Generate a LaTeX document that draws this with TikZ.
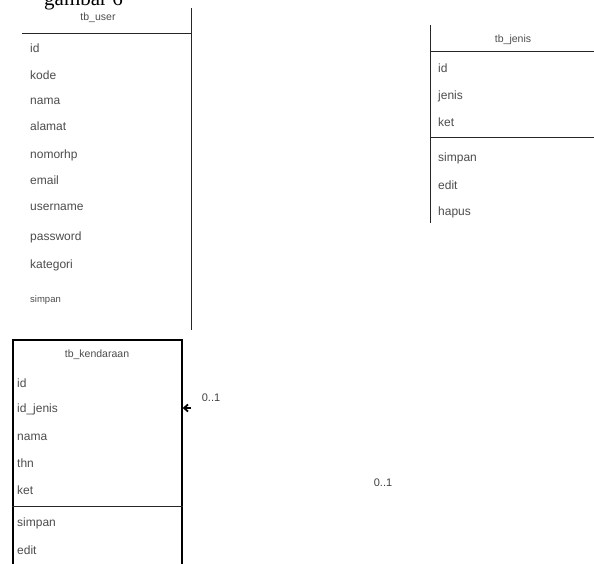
\documentclass[tikz,border=0pt]{standalone}
\usepackage{fontspec}
\setmainfont{Liberation Sans}
\newfontfamily\capfont{Liberation Serif}
\usetikzlibrary{arrows.meta,positioning}

\begin{document}
\begin{tikzpicture}[
  x=1pt, y=1pt,
  frame/.style={rectangle, inner sep=0pt},
  line/.style={line width=1.3pt, color=black!85},
  head/.style={font=\fontsize{10.5}{11}\selectfont, text=black!70},
  attr/.style={font=\fontsize{12}{13}\selectfont, text=black!70, anchor=west, inner sep=0pt},
  mult/.style={font=\fontsize{11}{12}\selectfont, text=black!75},
  arr/.style={-{Straight Barb[length=4pt, width=7pt]}, line width=1.8pt}
]
\useasboundingbox (0,0) rectangle (594,563);

% caption, cut by the top edge
\node[font=\capfont\fontsize{21}{22}\selectfont, anchor=base west, inner sep=0pt] (cap) at (44,557) {gambar 6};

% tb_user
\node[frame, minimum width=169pt, minimum height=322pt] (user) at (106.5,394) {};
\draw[line] (user.north east) -- (user.south east);
\draw[line] ([yshift=-26pt]user.north west) -- ([yshift=-26pt]user.north east);
\node[head] (userh) at (98,545) {tb\_user};
\node[attr] (u1) at (30,515) {id};
\node[attr, below=27pt of u1.west, anchor=west] (u2) {kode};
\node[attr, below=26pt of u2.west, anchor=west] (u3) {nama};
\node[attr, below=25pt of u3.west, anchor=west] (u4) {alamat};
\node[attr, below=29pt of u4.west, anchor=west] (u5) {nomorhp};
\node[attr, below=25pt of u5.west, anchor=west] (u6) {email};
\node[attr, below=27pt of u6.west, anchor=west] (u7) {username};
\node[attr, below=30pt of u7.west, anchor=west] (u8) {password};
\node[attr, below=28pt of u8.west, anchor=west] (u9) {kategori};
\node[attr, below=35pt of u9.west, anchor=west, font=\fontsize{9.5}{10}\selectfont] (u10) {simpan};

% tb_jenis
\node[frame, minimum width=189pt, minimum height=198pt] (jenis) at (525.5,439) {};
\draw[line] (jenis.north west) -- (jenis.south west);
\draw[line] ([yshift=-27pt]jenis.north west) -- ([yshift=-27pt]jenis.north east);
\draw[line] ([yshift=-113pt]jenis.north west) -- ([yshift=-113pt]jenis.north east);
\node[head] (jenish) at (513,523) {tb\_jenis};
\node[attr] (j1) at (438,495) {id};
\node[attr, below=28pt of j1.west, anchor=west] (j2) {jenis};
\node[attr, below=26pt of j2.west, anchor=west] (j3) {ket};
\node[attr, below=36pt of j3.west, anchor=west] (j4) {simpan};
\node[attr, below=27pt of j4.west, anchor=west] (j5) {edit};
\node[attr, below=27pt of j5.west, anchor=west] (j6) {hapus};

% tb_kendaraan
\node[frame, draw, line width=1.3pt, minimum width=169pt, minimum height=233pt] (kend) at (97.5,106.5) {};
\draw[line] ([yshift=-167pt]kend.north west) -- ([yshift=-167pt]kend.north east);
\node[head] (kendh) at (97,208) {tb\_kendaraan};
\node[attr] (k1) at (17,180) {id};
\node[attr, below=26pt of k1.west, anchor=west] (k2) {id\_jenis};
\node[attr, below=28pt of k2.west, anchor=west] (k3) {nama};
\node[attr, below=26pt of k3.west, anchor=west] (k4) {thn};
\node[attr, below=27pt of k4.west, anchor=west] (k5) {ket};
\node[attr, below=33pt of k5.west, anchor=west] (k6) {simpan};
\node[attr, below=27pt of k6.west, anchor=west] (k7) {edit};

% association
\coordinate (src) at (191,155);
\draw[arr] (src) -- (kend.east |- src);
\node[mult] (m1) at (211,165) {0..1};
\node[mult] (m2) at (383,80) {0..1};
\end{tikzpicture}
\end{document}
